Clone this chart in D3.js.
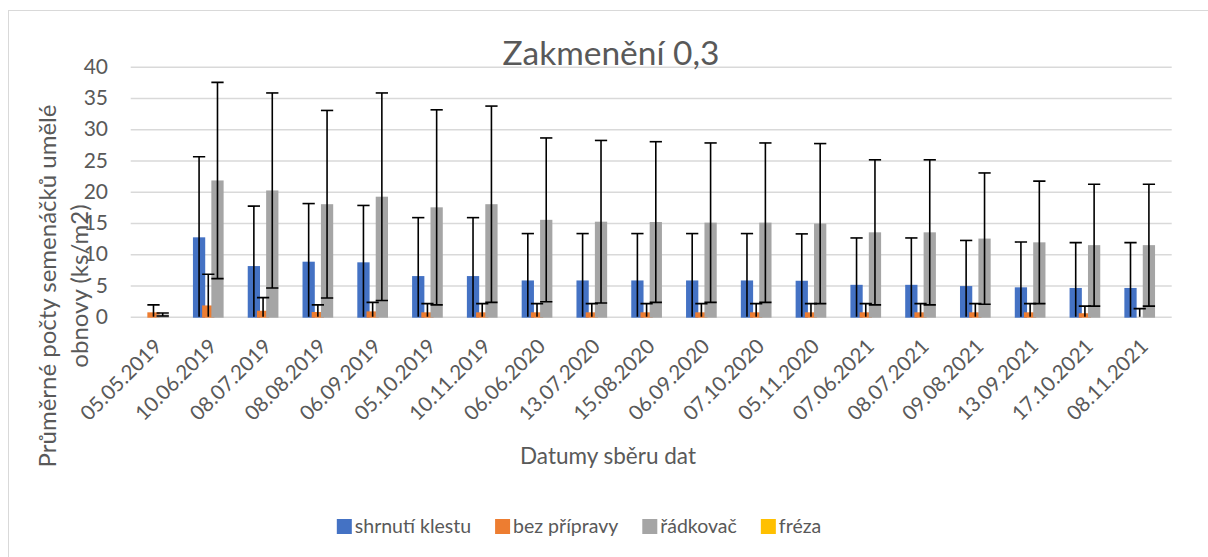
<!DOCTYPE html>
<html>
<head>
<meta charset="utf-8">
<script src="https://cdn.jsdelivr.net/npm/d3@7"></script>
<style>
  body { margin: 0; background: #fff; }
  svg { display: block; font-family: Lato, "Open Sans", sans-serif; }
</style>
</head>
<body>
<svg id="chart"></svg>
<script>
// data
const dates = ["05.05.2019", "10.06.2019", "08.07.2019", "08.08.2019", "06.09.2019",
  "05.10.2019", "10.11.2019", "06.06.2020", "13.07.2020", "15.08.2020", "06.09.2020",
  "07.10.2020", "05.11.2020", "07.06.2021", "08.07.2021", "09.08.2021", "13.09.2021",
  "17.10.2021", "08.11.2021"];
const seriesNames = ["shrnutí klestu", "bez přípravy", "řádkovač", "fréza"];
const seriesColors = ["#4472C4", "#ED7D31", "#A5A5A5", "#FFC000"];

const shrnutiKlestu = [0, 12.7, 8.1, 8.8, 8.7, 6.5, 6.5, 5.8, 5.8, 5.8, 5.8, 5.8, 5.75, 5.1, 5.1, 4.9, 4.7, 4.6, 4.6];
const shrnutiKlestuErr = [0, 12.9, 9.6, 9.3, 9.1, 9.35, 9.35, 7.5, 7.5, 7.5, 7.5, 7.5, 7.5, 7.5, 7.5, 7.3, 7.25, 7.25, 7.25];
const bezPripravy = [0.7, 1.8, 0.95, 0.75, 0.85, 0.7, 0.7, 0.7, 0.7, 0.7, 0.7, 0.7, 0.7, 0.7, 0.7, 0.7, 0.7, 0.55, 0];
const bezPripravyErr = [1.2, 5.0, 2.1, 1.15, 1.45, 1.4, 1.4, 1.4, 1.4, 1.4, 1.4, 1.4, 1.4, 1.4, 1.4, 1.4, 1.4, 1.15, 1.3];
const radkovac = [0.35, 21.8, 20.2, 18.0, 19.2, 17.5, 18.0, 15.5, 15.2, 15.15, 15.05, 15.05, 14.9, 13.5, 13.5, 12.5, 11.9, 11.45, 11.45];
const radkovacErr = [0.25, 15.7, 15.6, 15.0, 16.6, 15.6, 15.7, 13.1, 13.0, 12.85, 12.75, 12.75, 12.8, 11.6, 11.6, 10.5, 9.8, 9.75, 9.75];
const freza = [0, 0, 0, 0, 0, 0, 0, 0, 0, 0, 0, 0, 0, 0, 0, 0, 0, 0, 0];
const frezaErr = [0, 0, 0, 0, 0, 0, 0, 0, 0, 0, 0, 0, 0, 0, 0, 0, 0, 0, 0];
const yTicks = [0, 5, 10, 15, 20, 25, 30, 35, 40];

const values = [shrnutiKlestu, bezPripravy, radkovac, freza];
const errors = [shrnutiKlestuErr, bezPripravyErr, radkovacErr, frezaErr];

// dimensions
const width = 1208, height = 557;
const plot = { left: 130.7, right: 1171.7, top: 66.7, bottom: 316.7 };
const textColor = "#595959";

const svg = d3.select("#chart").attr("width", width).attr("height", height);

// chart frame (only top/left edges visible in the crop)
svg.append("rect")
  .attr("x", 8.5).attr("y", 10.5)
  .attr("width", width + 20).attr("height", height + 20)
  .attr("fill", "#fff").attr("stroke", "#d9d9d9");

// scales
const x = d3.scaleBand().domain(dates)
  .range([plot.left, plot.right])
  .paddingInner(0.272).paddingOuter(0.136);
const barW = x.bandwidth() / 3.25;          // bars overlap by 25 %
const xs = d3.scaleLinear().domain([0, seriesNames.length - 1])
  .range([0, x.bandwidth() - barW]);
const y = d3.scaleLinear().domain([0, 40]).range([plot.bottom, plot.top]);

// y axis + gridlines
const yAxis = svg.append("g")
  .attr("transform", `translate(${plot.left},0)`)
  .call(d3.axisLeft(y).tickValues(yTicks)
    .tickSize(-(plot.right - plot.left)).tickSizeOuter(0).tickPadding(22.7));
yAxis.select(".domain").remove();
yAxis.selectAll(".tick line").attr("stroke", "#d9d9d9").attr("stroke-width", 1.5);
yAxis.selectAll(".tick text")
  .attr("fill", textColor).attr("font-size", "21px")
  .attr("font-family", "Lato, sans-serif");

// bars
const flat = [];
values.forEach((arr, s) => arr.forEach((v, i) => flat.push({ s, date: dates[i], v, e: errors[s][i] })));

svg.append("g").selectAll("rect")
  .data(flat.filter(d => d.v > 0))
  .join("rect")
  .attr("x", d => x(d.date) + xs(d.s))
  .attr("y", d => y(d.v))
  .attr("width", barW)
  .attr("height", d => y(0) - y(d.v) + 1)
  .attr("fill", d => seriesColors[d.s]);

// error bars (clipped to the plot area)
svg.append("clipPath").attr("id", "plotClip")
  .append("rect")
  .attr("x", plot.left).attr("y", 0)
  .attr("width", plot.right - plot.left).attr("height", plot.bottom);

const err = svg.append("g").attr("clip-path", "url(#plotClip)")
  .selectAll("g")
  .data(flat.filter(d => d.e > 0))
  .join("g")
  .attr("stroke", "#000").attr("stroke-width", 1.6);

err.append("line")
  .attr("x1", d => x(d.date) + xs(d.s) + barW / 2)
  .attr("x2", d => x(d.date) + xs(d.s) + barW / 2)
  .attr("y1", d => y(d.v + d.e))
  .attr("y2", d => y(d.v - d.e));
err.append("line")
  .attr("x1", d => x(d.date) + xs(d.s))
  .attr("x2", d => x(d.date) + xs(d.s) + barW)
  .attr("y1", d => y(d.v + d.e))
  .attr("y2", d => y(d.v + d.e));
err.append("line")
  .attr("x1", d => x(d.date) + xs(d.s))
  .attr("x2", d => x(d.date) + xs(d.s) + barW)
  .attr("y1", d => y(d.v - d.e))
  .attr("y2", d => y(d.v - d.e));

// x axis labels
const xAxis = svg.append("g")
  .attr("transform", `translate(0,${plot.bottom})`)
  .call(d3.axisBottom(x).tickSize(0).tickPadding(0));
xAxis.select(".domain").remove();
xAxis.selectAll(".tick text")
  .attr("fill", textColor).attr("font-size", "20.5px")
  .attr("font-family", "Lato, sans-serif")
  .attr("text-anchor", "end")
  .attr("y", 0).attr("dy", 0)
  .attr("transform", "translate(5,31) rotate(-45)");

// title
svg.append("text")
  .attr("x", 611).attr("y", 65)
  .attr("text-anchor", "middle")
  .attr("font-size", "33.5px").attr("fill", textColor)
  .text("Zakmenění 0,3");

// axis titles
const yTitle = svg.append("text")
  .attr("transform", "translate(0,286) rotate(-90)")
  .attr("text-anchor", "middle")
  .attr("font-size", "24px").attr("fill", textColor);
yTitle.append("tspan").attr("x", 0).attr("y", 56).text("Průměrné počty semenáčků umělé");
yTitle.append("tspan").attr("x", 0).attr("y", 88).text("obnovy (ks/m2)");

svg.append("text")
  .attr("x", 608).attr("y", 464)
  .attr("text-anchor", "middle")
  .attr("font-size", "22.5px").attr("fill", textColor)
  .text("Datumy sběru dat");

// legend
const legend = svg.append("g").attr("class", "legend");
const items = legend.selectAll("g")
  .data(seriesNames)
  .join("g");
items.append("rect")
  .attr("y", 519).attr("width", 15).attr("height", 15)
  .attr("fill", (d, i) => seriesColors[i]);
items.append("text")
  .attr("x", 18).attr("y", 532.5)
  .attr("font-size", "19.5px").attr("fill", textColor)
  .text(d => d);

let cursor = 0;
const offsets = [];
items.each(function () {
  offsets.push(cursor);
  cursor += 18 + d3.select(this).select("text").node().getComputedTextLength() + 24;
});
const legendW = cursor - 24;
const legendStart = 579 - legendW / 2;
items.attr("transform", (d, i) => `translate(${legendStart + offsets[i]},0)`);
</script>
</body>
</html>
